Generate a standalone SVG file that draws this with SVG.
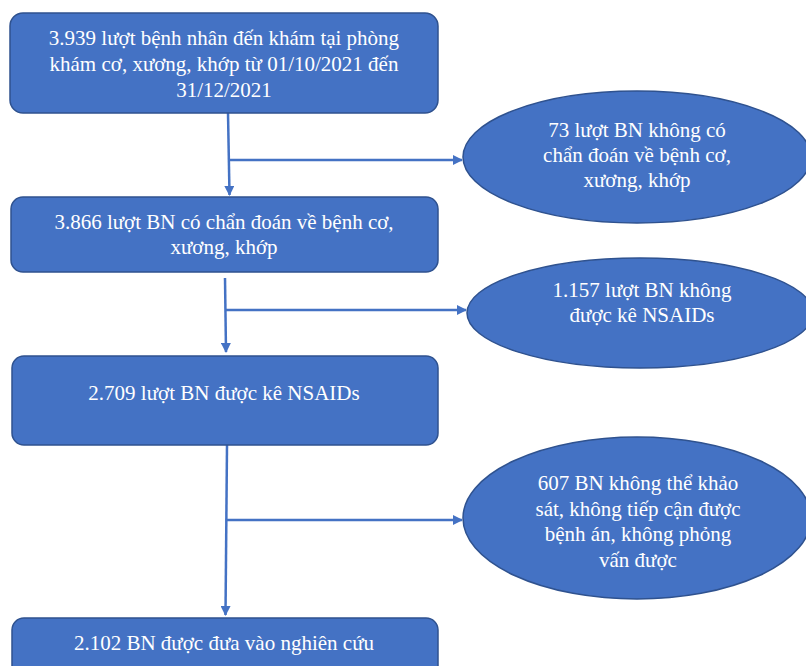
<svg xmlns="http://www.w3.org/2000/svg" width="806" height="666" viewBox="0 0 806 666">
<style>
.box{fill:#4472C4;stroke:#2F528F;stroke-width:1.5}
.t{font-size:21px;fill:#ffffff;text-anchor:middle}
.c{stroke:#4472C4;stroke-width:2.5;fill:none}
</style>
<defs>
<marker id="ah" viewBox="0 0 10 10" refX="9" refY="5" markerWidth="4" markerHeight="4" orient="auto" markerUnits="strokeWidth">
<path d="M0,0 L10,5 L0,10 z" fill="#4472C4"/>
</marker>
</defs>
<rect width="806" height="666" fill="#ffffff"/>
<g id="connectors">
<line class="c" x1="228" y1="113" x2="229.5" y2="195" marker-end="url(#ah)"/>
<line class="c" x1="229" y1="160" x2="462" y2="160" marker-end="url(#ah)"/>
<line class="c" x1="225" y1="278" x2="226" y2="352" marker-end="url(#ah)"/>
<line class="c" x1="226" y1="310" x2="466" y2="310" marker-end="url(#ah)"/>
<line class="c" x1="227" y1="445" x2="225.5" y2="615" marker-end="url(#ah)"/>
<line class="c" x1="226" y1="520" x2="462" y2="520" marker-end="url(#ah)"/>
</g>
<g font-family="Liberation Serif, serif">
<g id="n1">
<rect class="box" x="10" y="13" width="428" height="100" rx="13"/>
<text class="t" x="224" y="45">3.939 lượt bệnh nhân đến khám tại phòng</text>
<text class="t" x="224" y="71">khám cơ, xương, khớp từ 01/10/2021 đến</text>
<text class="t" x="224" y="97">31/12/2021</text>
</g>
<g id="n2">
<ellipse class="box" cx="637" cy="157" rx="174" ry="66"/>
<text class="t" x="637" y="137">73 lượt BN không có</text>
<text class="t" x="637" y="162">chẩn đoán về bệnh cơ,</text>
<text class="t" x="637" y="187">xương, khớp</text>
</g>
<g id="n3">
<rect class="box" x="11" y="197" width="427" height="75" rx="12"/>
<text class="t" x="224" y="229">3.866 lượt BN có chẩn đoán về bệnh cơ,</text>
<text class="t" x="224" y="254">xương, khớp</text>
</g>
<g id="n4">
<ellipse class="box" cx="640" cy="313" rx="173" ry="55"/>
<text class="t" x="642" y="297">1.157 lượt BN không</text>
<text class="t" x="642" y="322">được kê NSAIDs</text>
</g>
<g id="n5">
<rect class="box" x="12" y="356" width="426" height="89" rx="12"/>
<text class="t" x="224" y="400">2.709 lượt BN được kê NSAIDs</text>
</g>
<g id="n6">
<ellipse class="box" cx="637" cy="518" rx="174" ry="81"/>
<text class="t" x="638" y="490">607 BN không thể khảo</text>
<text class="t" x="638" y="516">sát, không tiếp cận được</text>
<text class="t" x="638" y="541">bệnh án, không phỏng</text>
<text class="t" x="638" y="567">vấn được</text>
</g>
<g id="n7">
<rect class="box" x="12" y="618" width="426" height="70" rx="12"/>
<text class="t" x="224" y="650">2.102 BN được đưa vào nghiên cứu</text>
</g>
</g>
</svg>
